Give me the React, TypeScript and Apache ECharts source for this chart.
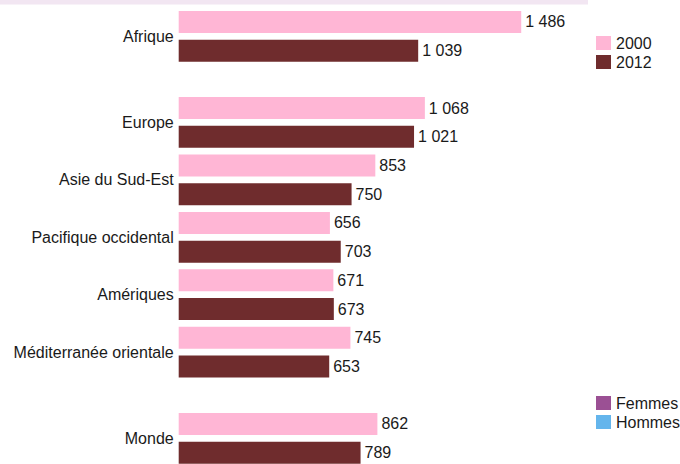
import React, { useEffect, useRef } from "react";
import * as echarts from "echarts";

const regions = [
  "Afrique",
  "Europe",
  "Asie du Sud-Est",
  "Pacifique occidental",
  "Amériques",
  "Méditerranée orientale",
  "Monde",
];
const values2000 = [1486, 1068, 853, 656, 671, 745, 862];
const values2012 = [1039, 1021, 750, 703, 673, 653, 789];
const gapBefore = ["Europe", "Monde"];
const yearNames = ["2000", "2012"];
const sexNames = ["Femmes", "Hommes"];

const FONT = "'Liberation Sans', Arial, Helvetica, sans-serif";
const TEXT = "#1a1a1a";

function fmt(v: number): string {
  if (v >= 1000) {
    return `${Math.floor(v / 1000)} ${String(v % 1000).padStart(3, "0")}`;
  }
  return String(v);
}

export default function App() {
  const ref = useRef<HTMLDivElement>(null);

  useEffect(() => {
    if (!ref.current) return;
    const chart = echarts.init(ref.current, undefined, { renderer: "svg" });

    type Slot = { key: string; region: string; year: string; idx: number };
    const slots: Slot[] = [];
    regions.forEach((r, i) => {
      if (gapBefore.includes(r)) {
        slots.push({ key: `gap-${i}`, region: "", year: "", idx: -1 });
      }
      slots.push({ key: `${i}-2000`, region: r, year: "2000", idx: i });
      slots.push({ key: `${i}-2012`, region: r, year: "2012", idx: i });
    });

    const data2000 = slots.map((s) =>
      s.year === "2000" ? values2000[s.idx] : "-"
    );
    const data2012 = slots.map((s) =>
      s.year === "2012" ? values2012[s.idx] : "-"
    );

    const labelCfg = {
      show: true,
      position: "right",
      distance: 4,
      color: TEXT,
      fontSize: 16,
      fontFamily: FONT,
      formatter: (p: any) => fmt(p.value),
    };

    const legendText = { fontSize: 16, color: TEXT, fontFamily: FONT, lineHeight: 16 };

    chart.setOption({
      animation: false,
      backgroundColor: "#ffffff",
      textStyle: { fontFamily: FONT },
      grid: {
        left: 178.7,
        right: 40.3,
        top: 7.6,
        height: 459.4,
        containLabel: false,
        outerBoundsMode: "none",
      },
      xAxis: {
        type: "value",
        min: 0,
        max: 2000,
        show: false,
      },
      yAxis: {
        type: "category",
        inverse: true,
        data: slots.map((s) => s.key),
        axisLine: { show: false },
        axisTick: { show: false },
        splitLine: { show: false },
        axisLabel: {
          interval: 0,
          margin: 5,
          color: TEXT,
          fontSize: 16,
          fontFamily: FONT,
          verticalAlign: "top",
          lineHeight: 28.7,
          formatter: (v: string) => {
            const s = slots.find((x) => x.key === v);
            return s && s.year === "2000" ? s.region : "";
          },
        },
      },
      legend: [
        {
          data: yearNames,
          orient: "vertical",
          left: 591,
          top: 30,
          itemWidth: 15,
          itemHeight: 14,
          itemGap: 3,
          icon: "rect",
          selectedMode: false,
          textStyle: legendText,
        },
        {
          data: sexNames,
          orient: "vertical",
          left: 591,
          top: 390,
          itemWidth: 15,
          itemHeight: 14,
          itemGap: 3,
          icon: "rect",
          selectedMode: false,
          textStyle: legendText,
        },
      ],
      graphic: [
        {
          type: "rect",
          left: 0,
          top: 0,
          shape: { width: 588, height: 4.5 },
          style: { fill: "#f2e6f2" },
          silent: true,
        },
      ],
      series: [
        {
          name: yearNames[0],
          type: "bar",
          data: data2000,
          barWidth: 22,
          barGap: "-100%",
          itemStyle: { color: "#ffb6d5" },
          label: labelCfg,
        },
        {
          name: yearNames[1],
          type: "bar",
          data: data2012,
          barWidth: 22,
          barGap: "-100%",
          itemStyle: { color: "#6f2c2d" },
          label: labelCfg,
        },
        {
          name: sexNames[0],
          type: "bar",
          data: [],
          barWidth: 22,
          barGap: "-100%",
          itemStyle: { color: "#9b5094" },
        },
        {
          name: sexNames[1],
          type: "bar",
          data: [],
          barWidth: 22,
          barGap: "-100%",
          itemStyle: { color: "#64b5ec" },
        },
      ],
    });

    return () => chart.dispose();
  }, []);

  return (
    <div
      ref={ref}
      style={{ position: "fixed", left: 0, top: 0, width: 680, height: 464, background: "#fff" }}
    />
  );
}
